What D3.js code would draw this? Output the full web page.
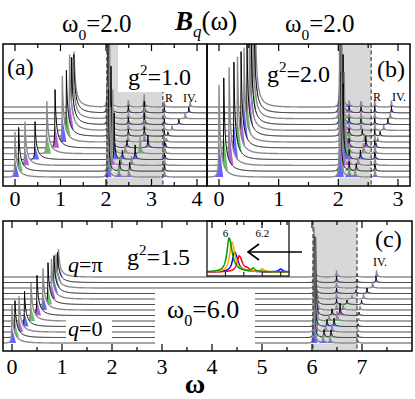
<!DOCTYPE html>
<html>
<head>
<meta charset="utf-8">
<script src="https://cdn.jsdelivr.net/npm/d3@7"></script>
<style>
body{margin:0;background:#fff}
svg{display:block;font-family:"Liberation Serif","DejaVu Serif",serif}
</style>
</head>
<body>
<svg id="fig" width="415" height="399"></svg>
<script>
// 13 curves per panel, q = 0 ... pi (bottom to top)
var nRows = 13;

// panel (a): g^2 = 1.0, w0 = 2.0   (heights in units of one row offset)
var aLowPos  = [0.00, 0.08, 0.22, 0.44, 0.70, 0.88, 1.04, 1.13, 1.20, 1.24, 1.27, 1.29, 1.30];
var aLowH    = [7.7, 7.5, 7.5, 6.5, 9.0, 10.0, 11.3, 11.3, 13.0, 11.5, 10.5, 10.0, 9.5];
var aMainPos = [2.03, 2.05, 2.10, 2.18, 2.15, 2.11, 2.08, 2.07, 2.06, 2.05, 2.05, 2.04, 2.04];
var aMainH   = [16, 14, 10, 8, 11, 14, 18, 20, 22, 22, 22, 22, 22];
var aSat1Pos = [2.28, 2.30, 2.32, 2.36, 2.42, 2.46, 2.48, 2.49, 2.49, 2.49, 2.49, 2.49, 2.49];
var aSat1H   = [2.0, 1.8, 1.6, 1.5, 1.5, 1.3, 1.2, 1.2, 1.2, 1.2, 1.2, 1.2, 1.2];
var aSat2Pos = [2.50, 2.52, 2.56, 2.64, 2.75, 2.92, 2.84, 2.84, 2.84, 2.84, 2.84, 2.84, 2.84];
var aSat2H   = [1.5, 1.5, 1.6, 2.5, 2.8, 2.2, 1.5, 1.6, 1.8, 2.0, 2.0, 2.0, 2.2];
var aRPos    = 3.28, aRH = 1.0;
var aIVPos   = [3.29, 3.29, 3.29, 3.30, 3.30, 3.31, 3.33, 3.36, 3.45, 3.60, 3.74, 3.82, 3.85];
var aIVH     = [0.5, 0.5, 0.5, 0.5, 0.6, 0.6, 0.6, 0.7, 0.8, 0.9, 1.0, 1.0, 1.0];

// panel (b): g^2 = 2.0, w0 = 2.0
var bLowPos  = [0.00, 0.08, 0.17, 0.25, 0.31, 0.37, 0.42, 0.47, 0.51, 0.54, 0.57, 0.59, 0.61];
var bLowH    = [15.8, 16, 16.8, 16.7, 16.6, 16.5, 16.2, 16, 16, 16, 16, 16, 16];
var bMainPos = [2.02, 2.03, 2.05, 2.08, 2.10, 2.08, 2.06, 2.05, 2.04, 2.04, 2.03, 2.03, 2.03];
var bMainH   = [18, 17, 15, 13, 14, 16, 18, 20, 22, 22, 22, 22, 22];
var bSat1Pos = 2.18;
var bSat1H   = [1.5, 1.5, 1.5, 1.4, 1.3, 1.2, 1.2, 1.1, 1.0, 1.0, 1.0, 1.0, 1.0];
var bSat2Pos = [2.28, 2.30, 2.33, 2.37, 2.42, 2.46, 2.44, 2.40, 2.38, 2.38, 2.38, 2.38, 2.38];
var bSat2H   = [1.2, 1.3, 1.4, 1.6, 1.8, 2.0, 1.4, 1.1, 1.0, 1.0, 1.0, 1.0, 1.0];
var bRPos    = 2.61, bRH = 1.1;
var bIVPos   = [2.62, 2.62, 2.62, 2.62, 2.62, 2.63, 2.66, 2.70, 2.76, 2.83, 2.87, 2.89, 2.89];
var bIVH     = [0.5, 0.5, 0.5, 0.5, 0.6, 0.6, 0.7, 0.8, 0.9, 1.0, 1.1, 1.1, 1.1];

// panel (c): g^2 = 1.5, w0 = 6.0
var cLowPos  = [0.00, 0.06, 0.14, 0.25, 0.38, 0.50, 0.62, 0.72, 0.79, 0.84, 0.88, 0.91, 0.93];
var cLowH    = [7.1, 6.7, 6.5, 6.4, 6.9, 7.3, 7.6, 7.6, 7.3, 6.9, 6.2, 5.5, 5.1];
var cMainPos = [6.03, 6.035, 6.04, 6.05, 6.06, 6.07, 6.075, 6.07, 6.06, 6.05, 6.045, 6.04, 6.04];
var cMainH   = [19.6, 18.4, 17.5, 16.4, 15.3, 14.2, 13.3, 12.2, 11.1, 10.2, 9.1, 8.4, 9.1];
var cSat1Pos = [6.22, 6.24, 6.27, 6.30, 6.34, 6.40, 6.49, 6.49, 6.49, 6.49, 6.49, 6.49, 6.49];
var cSat1H   = [1.5, 1.4, 1.3, 1.3, 1.2, 1.2, 1.0, 1.0, 1.0, 1.0, 1.0, 1.1, 1.2];
var cSat2Pos = [6.36, 6.38, 6.40, 6.44, 6.50, 6.56, 6.62, 6.70, 6.80, 6.88, 6.90, 6.90, 6.90];
var cSat2H   = [1.3, 1.3, 1.4, 1.5, 1.8, 2.2, 1.0, 0.8, 0.7, 0.6, 0.6, 0.6, 0.6];
var cIVPos   = [6.92, 6.92, 6.92, 6.92, 6.93, 6.94, 6.96, 6.99, 7.03, 7.10, 7.21, 7.28, 7.29];
var cIVH     = [0.5, 0.5, 0.5, 0.5, 0.5, 0.6, 0.7, 0.8, 0.9, 1.0, 1.1, 1.1, 1.2];

// inset of (c): red, orange, blue, green
var insetPos     = [6.075, 6.035, 6.05, 6.02];
var insetH       = [0.40, 0.75, 0.50, 0.85];
var insetBumpPos = [6.12, 6.20, 6.30, 6.15];
var insetBumpH   = [0.05, 0.07, 0.07, 0.08];
var insetTicks   = [6.0, 6.1, 6.2, 6.3];
var insetLabels  = ["6", "6.2"];

var fillColors = ["#6666ff", "#66c066", "#b060d8"];
var insetColors = ["#ff0000", "#ffa500", "#0000ff", "#009a00"];

// peak shape: g = [left, right] cusp width, L = [left, right] decay length
// fw = half width of the coloured base under each peak
var panels = [
  {id: "a", frame: [3, 207, 44, 186], xDom: [0, 4], xRange: [15, 197], base: [177, 107],
   gray: [2.02, 3.25], dashed: [2.02, 3.25], ticks: [0, 1, 2, 3, 4], labelY: 206, fw: 0.09,
   peaks: [
     {pos: aLowPos, h: aLowH, g: [0.004, 0.03], L: [0.05, 0.25]},
     {pos: aMainPos, h: aMainH, g: [0.003, 0.01], L: [0.04, 0.08]},
     {pos: aSat1Pos, h: aSat1H, g: [0.006, 0.012], L: [0.08, 0.1]},
     {pos: aSat2Pos, h: aSat2H, g: [0.006, 0.012], L: [0.08, 0.1]},
     {pos: aRPos, h: aRH, g: [0.005, 0.01], L: [0.05, 0.08]},
     {pos: aIVPos, h: aIVH, g: [0.005, 0.01], L: [0.05, 0.08]}]},
  {id: "b", frame: [207, 410, 44, 186], xDom: [0, 3], xRange: [219, 398], base: [177, 107],
   gray: [2.0, 2.55], dashed: [2.55], ticks: [0, 1, 2, 3], labelY: 206, fw: 0.07,
   peaks: [
     {pos: bLowPos, h: bLowH, g: [0.003, 0.02], L: [0.05, 0.2]},
     {pos: bMainPos, h: bMainH, g: [0.003, 0.01], L: [0.04, 0.07]},
     {pos: bSat1Pos, h: bSat1H, g: [0.005, 0.01], L: [0.06, 0.08]},
     {pos: bSat2Pos, h: bSat2H, g: [0.005, 0.01], L: [0.06, 0.08]},
     {pos: bRPos, h: bRH, g: [0.004, 0.008], L: [0.05, 0.06]},
     {pos: bIVPos, h: bIVH, g: [0.004, 0.008], L: [0.05, 0.06]}]},
  {id: "c", frame: [3, 412, 221, 351], xDom: [0, 7], xRange: [12, 362], base: [343, 277],
   gray: [6.02, 6.9], dashed: [6.02, 6.9], ticks: [0, 1, 2, 3, 4, 5, 6, 7], labelY: 374, fw: 0.08,
   peaks: [
     {pos: cLowPos, h: cLowH, g: [0.004, 0.03], L: [0.05, 0.25]},
     {pos: cMainPos, h: cMainH, g: [0.002, 0.008], L: [0.03, 0.06]},
     {pos: cSat1Pos, h: cSat1H, g: [0.006, 0.012], L: [0.08, 0.1]},
     {pos: cSat2Pos, h: cSat2H, g: [0.006, 0.012], L: [0.08, 0.1]},
     {pos: cIVPos, h: cIVH, g: [0.005, 0.01], L: [0.05, 0.08]}]}
];

function val(a, k) { return Array.isArray(a) ? a[k] : a; }

// spectral weight of row k at w
function spec(w, k, peaks) {
  var s = 0;
  peaks.forEach(function(p) {
    var c = val(p.pos, k), h = val(p.h, k);
    var side = w < c ? 0 : 1;
    var d = Math.abs(w - c), g = p.g[side];
    s += h * g / (d + g) * Math.exp(-d / p.L[side]);
  });
  return Math.min(s, 60);
}
// coloured triangle at the foot of every peak
function foot(w, k, peaks, fw) {
  var s = 0;
  peaks.forEach(function(p) {
    var c = val(p.pos, k), h = val(p.h, k);
    var fh = Math.min(h, Math.max(2.2, 0.38 * h));
    s = Math.max(s, fh * Math.max(0, 1 - Math.abs(w - c) / fw));
  });
  return s;
}

var svg = d3.select("#fig");
var defs = svg.append("defs");

panels.forEach(function(p) {
  var f = p.frame;
  var x = d3.scaleLinear().domain(p.xDom).range(p.xRange);
  var row = d3.scaleLinear().domain([0, nRows - 1]).range(p.base);
  var amp = d3.scaleLinear().domain([0, nRows - 1]).range([0, p.base[0] - p.base[1]]);

  defs.append("clipPath").attr("id", "clip-" + p.id)
    .append("rect").attr("x", f[0]).attr("y", f[2])
    .attr("width", f[1] - f[0]).attr("height", f[3] - f[2]);

  var g = svg.append("g").attr("clip-path", "url(#clip-" + p.id + ")");

  g.append("rect")
    .attr("x", x(p.gray[0])).attr("y", f[2])
    .attr("width", x(p.gray[1]) - x(p.gray[0])).attr("height", f[3] - f[2])
    .attr("fill", "#d8d8d8");

  // sampling grid (4 samples per pixel + every peak centre)
  var w0 = x.invert(f[0]), w1 = x.invert(f[1]);
  var step = (w1 - w0) / ((f[1] - f[0]) * 4);
  var grid = d3.range(w0, w1 + step, step);
  p.peaks.forEach(function(pk) {
    d3.range(nRows).forEach(function(k) { grid.push(val(pk.pos, k)); });
  });
  grid.sort(d3.ascending);

  for (var k = nRows - 1; k >= 0; k--) {
    var base = row(k);
    var pts = grid.map(function(w) {
      var s = spec(w, k, p.peaks);
      return {w: w, s: s, c: Math.min(s, foot(w, k, p.peaks, p.fw))};
    });
    g.append("path").datum(pts)
      .attr("fill", "#fff")
      .attr("d", d3.area().x(function(d) { return x(d.w); })
        .y0(base + 0.6).y1(function(d) { return base - amp(d.s); }));
    g.append("path").datum(pts)
      .attr("fill", fillColors[k % 3])
      .attr("d", d3.area().x(function(d) { return x(d.w); })
        .y0(base).y1(function(d) { return base - amp(d.c); }));
    g.append("path").datum(pts)
      .attr("fill", "none")
      .attr("stroke", k % 2 === 0 ? "#8a8a8a" : "#000")
      .attr("stroke-width", k % 2 === 0 ? 1.4 : 1)
      .attr("d", d3.line().x(function(d) { return x(d.w); })
        .y(function(d) { return base - amp(d.s); }));
  }

  p.dashed.forEach(function(w) {
    g.append("line")
      .attr("x1", x(w)).attr("x2", x(w)).attr("y1", f[2]).attr("y2", f[3])
      .attr("stroke", "#222").attr("stroke-width", 1).attr("stroke-dasharray", "4,2.5");
  });

  p.x = x;
});

// white label boxes
function whiteBox(x0, y0, x1, y1) {
  svg.append("rect").attr("x", x0).attr("y", y0)
    .attr("width", x1 - x0).attr("height", y1 - y0).attr("fill", "#fff");
}
whiteBox(118, 45, 198, 92);
whiteBox(262, 45, 336, 92);
whiteBox(155, 293, 255, 347);
whiteBox(66, 318, 112, 339);

// inset in (c)
var ix = d3.scaleLinear().domain([5.9, 6.345]).range([207, 289]);
var iy = d3.scaleLinear().domain([0, 1]).range([272, 232]);
svg.append("rect").attr("x", 207).attr("y", 221).attr("width", 82).attr("height", 55)
  .attr("fill", "#fff");
var igrid = d3.range(5.9, 6.345, 0.001);
[2, 0, 1, 3].forEach(function(i) {
  var pts = igrid.map(function(w) {
    var d = w - insetPos[i], gg = w < insetPos[i] ? 0.014 : 0.02;
    var d2 = w - insetBumpPos[i], g2 = 0.012;
    return [w, insetH[i] * gg * gg / (d * d + gg * gg) + insetBumpH[i] * g2 * g2 / (d2 * d2 + g2 * g2)];
  });
  svg.append("path").datum(pts)
    .attr("fill", "none").attr("stroke", insetColors[i]).attr("stroke-width", 1.5)
    .attr("d", d3.line().x(function(d) { return ix(d[0]); }).y(function(d) { return iy(d[1]); }));
});
svg.append("rect").attr("x", 207).attr("y", 221).attr("width", 82).attr("height", 55)
  .attr("fill", "none").attr("stroke", "#000").attr("stroke-width", 1.2);
insetTicks.forEach(function(t) {
  svg.append("line").attr("x1", ix(t)).attr("x2", ix(t)).attr("y1", 221).attr("y2", 225)
    .attr("stroke", "#000");
  svg.append("line").attr("x1", ix(t)).attr("x2", ix(t)).attr("y1", 276).attr("y2", 272)
    .attr("stroke", "#000");
});
svg.append("text").attr("x", ix(6.0)).attr("y", 237).attr("text-anchor", "middle")
  .attr("font-size", 11).text(insetLabels[0]);
svg.append("text").attr("x", ix(6.2)).attr("y", 237).attr("text-anchor", "middle")
  .attr("font-size", 11).text(insetLabels[1]);
// arrow
svg.append("line").attr("x1", 302).attr("x2", 248).attr("y1", 252).attr("y2", 252)
  .attr("stroke", "#000").attr("stroke-width", 1.6);
svg.append("polyline").attr("points", "259,244 248,252 259,260")
  .attr("fill", "none").attr("stroke", "#000").attr("stroke-width", 1.6);

// frames, ticks, tick labels
panels.forEach(function(p) {
  var f = p.frame, x = p.x;
  var minor = d3.range(p.xDom[0], p.xDom[1] + 0.01, 0.5).concat([p.xDom[1] + 0.5])
    .filter(function(t) { return x(t) > f[0] + 1 && x(t) < f[1] - 1; });
  minor.forEach(function(t) {
    var len = Number.isInteger(t) ? 7 : 4;
    svg.append("line").attr("x1", x(t)).attr("x2", x(t)).attr("y1", f[3]).attr("y2", f[3] - len)
      .attr("stroke", "#000").attr("stroke-width", 1.2);
    svg.append("line").attr("x1", x(t)).attr("x2", x(t)).attr("y1", f[2]).attr("y2", f[2] + len)
      .attr("stroke", "#000").attr("stroke-width", 1.2);
  });
  svg.append("rect").attr("x", f[0]).attr("y", f[2])
    .attr("width", f[1] - f[0]).attr("height", f[3] - f[2])
    .attr("fill", "none").attr("stroke", "#000").attr("stroke-width", 1.5);
  p.ticks.forEach(function(t) {
    svg.append("text").attr("x", x(t)).attr("y", p.labelY).attr("text-anchor", "middle")
      .attr("font-size", 22).text(t);
  });
});

// text labels
function omegaLabel(xp, yp, rest, size) {
  var t = svg.append("text").attr("x", xp).attr("y", yp).attr("font-size", size);
  t.append("tspan").text("ω");
  t.append("tspan").attr("font-size", size * 0.62).attr("dy", size * 0.3).text("0");
  t.append("tspan").attr("dy", -size * 0.3).text(rest);
}
omegaLabel(62, 32, "=2.0", 25);
omegaLabel(285, 32, "=2.0", 25);
omegaLabel(167, 318, "=6.0", 26);

var bq = svg.append("text").attr("x", 175).attr("y", 30).attr("font-size", 27);
bq.append("tspan").attr("font-style", "italic").attr("font-weight", "bold").text("B");
bq.append("tspan").attr("font-style", "italic").attr("font-size", 17).attr("dy", 7).text("q");
bq.append("tspan").attr("dy", -7).text("(ω)");

function gLabel(xp, yp, rest) {
  var t = svg.append("text").attr("x", xp).attr("y", yp).attr("font-size", 24);
  t.append("tspan").text("g");
  t.append("tspan").attr("font-size", 15).attr("dy", -10).text("2");
  t.append("tspan").attr("dy", 10).text(rest);
}
gLabel(128, 85, "=1.0");
gLabel(267, 82, "=2.0");
gLabel(127, 265, "=1.5");

function qLabel(xp, yp, rest) {
  var t = svg.append("text").attr("x", xp).attr("y", yp).attr("font-size", 22);
  t.append("tspan").attr("font-style", "italic").text("q");
  t.append("tspan").text(rest);
}
qLabel(68, 272, "=π");
qLabel(68, 336, "=0");

svg.append("text").attr("x", 7).attr("y", 75).attr("font-size", 24).text("(a)");
svg.append("text").attr("x", 377).attr("y", 77).attr("font-size", 24).text("(b)");
svg.append("text").attr("x", 375).attr("y", 247).attr("font-size", 24).text("(c)");

[[165, 102, "R"], [183, 102, "IV."], [373, 101, "R"], [392, 101, "IV."], [373, 266, "IV."]]
  .forEach(function(l) {
    svg.append("text").attr("x", l[0]).attr("y", l[1]).attr("font-size", 12).text(l[2]);
  });

svg.append("text").attr("x", 195).attr("y", 393).attr("text-anchor", "middle")
  .attr("font-size", 28).attr("font-weight", "bold").text("ω");
</script>
</body>
</html>
